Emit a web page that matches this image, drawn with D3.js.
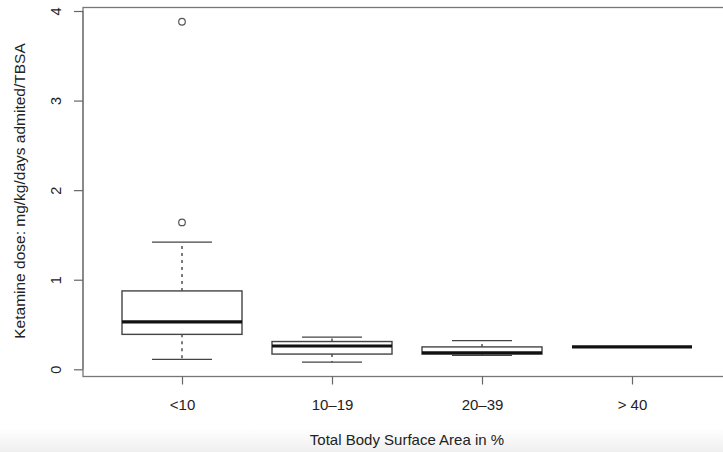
<!DOCTYPE html>
<html>
<head>
<meta charset="utf-8">
<script src="https://cdn.jsdelivr.net/npm/d3@7/dist/d3.min.js"></script>
<style>
  html, body { margin: 0; padding: 0; background: #fff; }
  svg { display: block; }
  text { font-family: "Liberation Sans", Arial, Helvetica, sans-serif; fill: #222; }
</style>
</head>
<body>
<svg id="chart" width="723" height="452"></svg>
<script>
// ---- data ----
const categories   = ["<10", "10\u201319", "20\u201339", "> 40"];
const whiskerLow   = [0.11, 0.08, 0.155, 0.25];
const q1           = [0.39, 0.17, 0.17, 0.25];
const median       = [0.53, 0.26, 0.185, 0.25];
const q3           = [0.875, 0.31, 0.25, 0.25];
const whiskerHigh  = [1.42, 0.36, 0.32, 0.25];
const outliers     = [[1.64, 3.88], [], [], []];
const yTicks       = [0, 1, 2, 3, 4];
const yTitle = "Ketamine dose: mg/kg/days admited/TBSA";
const xTitle = "Total Body Surface Area in %";

// ---- layout ----
const svg = d3.select("#chart");
const W = 723, H = 452;
const plot = { left: 83, right: 731, top: 7.5, bottom: 376.5 };

// subtle grey band at the bottom of the picture
const defs = svg.append("defs");
const grad = defs.append("linearGradient").attr("id", "band").attr("x1", 0).attr("y1", 0).attr("x2", 0).attr("y2", 1);
grad.append("stop").attr("offset", "0%").attr("stop-color", "#ffffff");
grad.append("stop").attr("offset", "100%").attr("stop-color", "#efefef");
svg.append("rect").attr("x", 0).attr("y", 428).attr("width", W).attr("height", H - 428).attr("fill", "url(#band)");

const x = d3.scaleLinear().domain([0.34, 4.66]).range([plot.left, plot.right]);
const y = d3.scaleLinear().domain([0, 4]).range([369.3, 11]);

const boxHalf = (x(1.4) - x(1));   // 0.4 units
const capHalf = boxHalf / 2;

// frame
svg.append("rect")
  .attr("x", plot.left).attr("y", plot.top)
  .attr("width", plot.right - plot.left).attr("height", plot.bottom - plot.top)
  .attr("fill", "none").attr("stroke", "#777").attr("stroke-width", 1.3);

// y axis
const yAxis = d3.axisLeft(y).tickValues(yTicks).tickSize(9).tickPadding(0).tickFormat(d3.format("d"));
const gy = svg.append("g").attr("transform", `translate(${plot.left},0)`).call(yAxis);
gy.select(".domain").attr("stroke", "#777").attr("stroke-width", 1.2)
  .attr("d", `M0,${y(4)}V${y(0)}`);
gy.selectAll(".tick line").attr("stroke", "#666").attr("stroke-width", 1.2);
gy.selectAll(".tick text")
  .attr("x", null).attr("dy", null)
  .attr("text-anchor", "middle")
  .attr("transform", "translate(-27,0) rotate(-90)")
  .attr("dominant-baseline", "central")
  .style("font-size", "14.5px")
  .style("font-family", "'Liberation Sans', Arial, sans-serif")
  .attr("fill", "#222");

// x axis
const xAxis = d3.axisBottom(x).tickValues([1, 2, 3, 4]).tickSize(8).tickPadding(15)
  .tickFormat((d) => categories[d - 1]);
const gx = svg.append("g").attr("transform", `translate(0,${plot.bottom})`).call(xAxis);
gx.select(".domain").remove();
gx.selectAll(".tick line").attr("stroke", "#666").attr("stroke-width", 1.2);
gx.selectAll(".tick text")
  .style("font-size", "15px")
  .style("font-family", "'Liberation Sans', Arial, sans-serif")
  .attr("fill", "#222");

// titles
svg.append("text")
  .attr("x", (plot.left + plot.right) / 2).attr("y", 445)
  .attr("text-anchor", "middle").style("font-size", "15px").text(xTitle);
svg.append("text")
  .attr("transform", `translate(25,${(plot.top + plot.bottom) / 2 - 1}) rotate(-90)`)
  .attr("text-anchor", "middle").style("font-size", "15.5px").text(yTitle);

// boxes
const boxes = categories.map((c, i) => ({
  i: i + 1, lo: whiskerLow[i], q1: q1[i], med: median[i], q3: q3[i], hi: whiskerHigh[i], out: outliers[i]
}));

const g = svg.append("g");
boxes.forEach((b) => {
  const cx = x(b.i);
  const col = "#444";
  // whiskers (dashed)
  if (b.hi > b.q3) {
    g.append("line").attr("x1", cx).attr("x2", cx).attr("y1", y(b.q3)).attr("y2", y(b.hi))
      .attr("stroke", col).attr("stroke-width", 1.4).attr("stroke-dasharray", "3,4");
    g.append("line").attr("x1", cx - capHalf).attr("x2", cx + capHalf).attr("y1", y(b.hi)).attr("y2", y(b.hi))
      .attr("stroke", col).attr("stroke-width", 1.3);
  }
  if (b.lo < b.q1) {
    g.append("line").attr("x1", cx).attr("x2", cx).attr("y1", y(b.q1)).attr("y2", y(b.lo))
      .attr("stroke", col).attr("stroke-width", 1.4).attr("stroke-dasharray", "3,4");
    g.append("line").attr("x1", cx - capHalf).attr("x2", cx + capHalf).attr("y1", y(b.lo)).attr("y2", y(b.lo))
      .attr("stroke", col).attr("stroke-width", 1.3);
  }
  // box
  if (b.q3 > b.q1) {
    g.append("rect").attr("x", cx - boxHalf).attr("y", y(b.q3))
      .attr("width", 2 * boxHalf).attr("height", y(b.q1) - y(b.q3))
      .attr("fill", "#fff").attr("stroke", col).attr("stroke-width", 1.4);
  }
  // median
  g.append("line").attr("x1", cx - boxHalf).attr("x2", cx + boxHalf).attr("y1", y(b.med)).attr("y2", y(b.med))
    .attr("stroke", "#111").attr("stroke-width", 3.2);
  // outliers
  b.out.forEach((v) => {
    g.append("circle").attr("cx", cx).attr("cy", y(v)).attr("r", 3.3)
      .attr("fill", "none").attr("stroke", "#555").attr("stroke-width", 1.2);
  });
});
</script>
</body>
</html>
